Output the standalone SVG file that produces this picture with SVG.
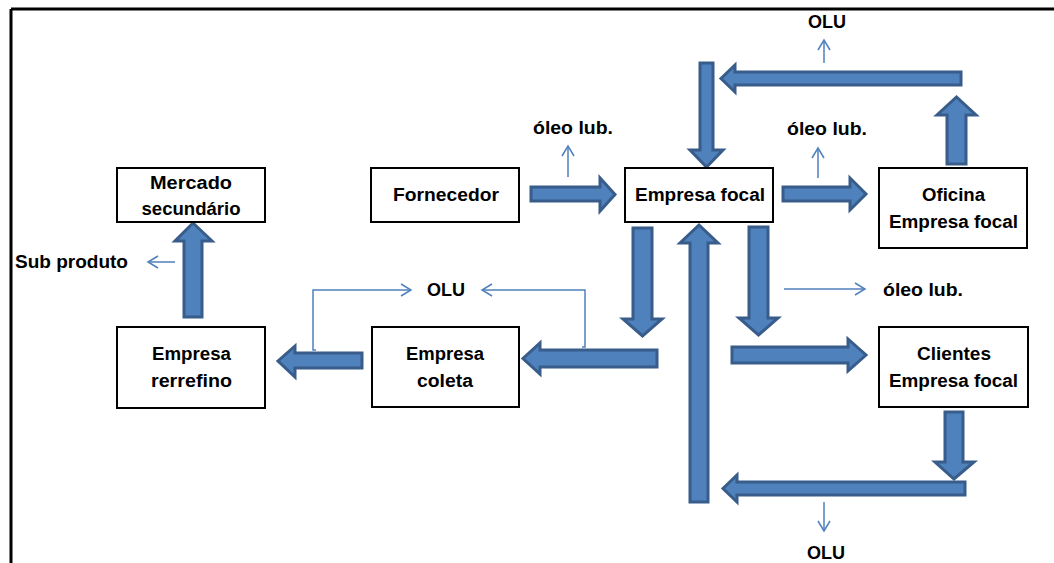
<svg xmlns="http://www.w3.org/2000/svg" width="1054" height="563" viewBox="0 0 1054 563">
<style>
.box{fill:#fff;stroke:#000;stroke-width:2}
.t{font-family:"Liberation Sans",Arial,sans-serif;font-weight:bold;font-size:18px;fill:#000}
.m{text-anchor:middle}
.ba{fill:#4f81bd;stroke:#385d8a;stroke-width:3;stroke-linejoin:miter}
.thin{fill:none;stroke:#4f81bd;stroke-width:1.5}
</style>
<defs>
<marker id="oa" markerUnits="userSpaceOnUse" markerWidth="16" markerHeight="16" refX="12" refY="8" orient="auto" viewBox="0 0 16 16">
<path d="M2,2 L12,8 L2,14" fill="none" stroke="#4f81bd" stroke-width="1.5"/>
</marker>
</defs>
<rect width="1054" height="563" fill="#fff"/>
<g id="frame">
<line x1="11" y1="9" x2="1054" y2="9" stroke="#000" stroke-width="3"/>
<line x1="11" y1="9" x2="11" y2="563" stroke="#000" stroke-width="3"/>
</g>
<g id="connectors">
<polygon class="ba" points="531,187 600,187 600,178 615,194.5 600,211 600,201 531,201"/>
<polygon class="ba" points="783,187 850,187 850,178 866,194 850,210 850,201 783,201"/>
<polygon class="ba" points="700,63 713,63 713,150 723,150 706.5,167 690,150 700,150"/>
<polygon class="ba" points="961,72 735,72 735,65 721,78.5 735,92 735,85 961,85"/>
<polygon class="ba" points="947,164 947,115 937,115 956.5,97 976,115 966,115 966,164"/>
<polygon class="ba" points="633,228 652,228 652,319 662,319 642.5,336 623,319 633,319"/>
<polygon class="ba" points="657,350 540,350 540,343 523,358.5 540,374 540,367 657,367"/>
<polygon class="ba" points="690,502 690,243 680,243 699,225 718,243 708,243 708,502"/>
<polygon class="ba" points="749,227 768,227 768,318 778,318 758.5,335 739,318 749,318"/>
<polygon class="ba" points="732,347 848,347 848,339 866,355 848,371 848,363 732,363"/>
<polygon class="ba" points="945,412 963,412 963,462 974,462 954,479 935,462 945,462"/>
<polygon class="ba" points="965,482 737,482 737,475 723,488.5 737,502 737,495 965,495"/>
<polygon class="ba" points="362,353 295,353 295,346 278,361 295,377 295,368 362,368"/>
<polygon class="ba" points="184,317 184,241 175,241 193,223 212,241 202,241 202,317"/>
<line class="thin" x1="568" y1="177" x2="568" y2="146" marker-end="url(#oa)"/>
<line class="thin" x1="824" y1="63" x2="824" y2="40" marker-end="url(#oa)"/>
<line class="thin" x1="818" y1="178" x2="818" y2="148" marker-end="url(#oa)"/>
<line class="thin" x1="175" y1="262" x2="148" y2="262" marker-end="url(#oa)"/>
<polyline class="thin" points="316,350 313,350 313,290 411,290" marker-end="url(#oa)"/>
<polyline class="thin" points="582,347 585,347 585,290 482,290" marker-end="url(#oa)"/>
<line class="thin" x1="784" y1="289" x2="865" y2="289" marker-end="url(#oa)"/>
<line class="thin" x1="824" y1="502" x2="824" y2="531" marker-end="url(#oa)"/>
</g>
<g id="mercado">
<rect class="box" x="117" y="168" width="148" height="54"/>
<text class="t m" x="191" y="189" textLength="82" lengthAdjust="spacingAndGlyphs">Mercado</text>
<text class="t m" x="191" y="215" textLength="99" lengthAdjust="spacingAndGlyphs">secundário</text>
</g>
<g id="fornecedor">
<rect class="box" x="371" y="168" width="148" height="54"/>
<text class="t m" x="446" y="201" textLength="106" lengthAdjust="spacingAndGlyphs">Fornecedor</text>
</g>
<g id="empresa-focal">
<rect class="box" x="625" y="168" width="148" height="54"/>
<text class="t m" x="700" y="201" textLength="130" lengthAdjust="spacingAndGlyphs">Empresa focal</text>
</g>
<g id="oficina">
<rect class="box" x="879" y="168" width="148" height="80"/>
<text class="t m" x="953.5" y="201" textLength="63" lengthAdjust="spacingAndGlyphs">Oficina</text>
<text class="t m" x="953.5" y="228" textLength="129" lengthAdjust="spacingAndGlyphs">Empresa focal</text>
</g>
<g id="rerrefino">
<rect class="box" x="117" y="327" width="148" height="81"/>
<text class="t m" x="191.5" y="360" textLength="79" lengthAdjust="spacingAndGlyphs">Empresa</text>
<text class="t m" x="191.5" y="387" textLength="81" lengthAdjust="spacingAndGlyphs">rerrefino</text>
</g>
<g id="coleta">
<rect class="box" x="372" y="327" width="147" height="80"/>
<text class="t m" x="445" y="360" textLength="78" lengthAdjust="spacingAndGlyphs">Empresa</text>
<text class="t m" x="445" y="387" textLength="56" lengthAdjust="spacingAndGlyphs">coleta</text>
</g>
<g id="clientes">
<rect class="box" x="879" y="327" width="149" height="80"/>
<text class="t m" x="954" y="360" textLength="74" lengthAdjust="spacingAndGlyphs">Clientes</text>
<text class="t m" x="953.5" y="387" textLength="129" lengthAdjust="spacingAndGlyphs">Empresa focal</text>
</g>
<g id="labels">
<text class="t m" x="573" y="134" textLength="80" lengthAdjust="spacingAndGlyphs">óleo lub.</text>
<text class="t m" x="827" y="28">OLU</text>
<text class="t m" x="827" y="135" textLength="80" lengthAdjust="spacingAndGlyphs">óleo lub.</text>
<text class="t" x="15" y="268" textLength="113" lengthAdjust="spacingAndGlyphs">Sub produto</text>
<text class="t" x="427" y="296">OLU</text>
<text class="t" x="883" y="296" textLength="80" lengthAdjust="spacingAndGlyphs">óleo lub.</text>
<text class="t m" x="826" y="559">OLU</text>
</g>
</svg>
